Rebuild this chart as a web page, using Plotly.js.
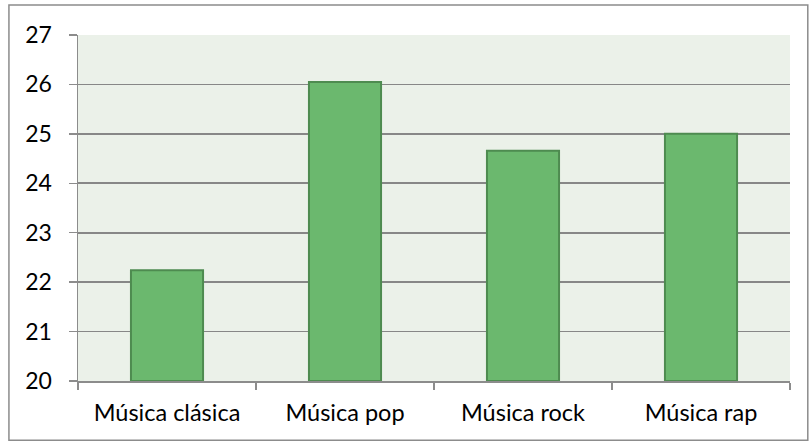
<!DOCTYPE html>
<html>
<head>
<meta charset="utf-8">
<script src="https://cdn.plot.ly/plotly-3.0.1.min.js"></script>
<style>
html,body{margin:0;padding:0;background:#fff;}
#chart{width:810px;height:445px;}
</style>
</head>
<body>
<div id="chart"></div>
<script>
const categories = ["Música clásica", "Música pop", "Música rock", "Música rap"];
const values = [22.24, 26.05, 24.66, 25.0];
const yTicks = [20, 21, 22, 23, 24, 25, 26, 27];
const baseValue = 20;

const trace = {
  type: "bar",
  x: categories,
  y: values.map(v => v - baseValue),
  base: baseValue,
  marker: {color: "#6bb86e", line: {color: "#4e8b50", width: 2}},
  width: 0.405,
  hoverinfo: "x+y"
};

const layout = {
  width: 810,
  height: 445,
  margin: {l: 78, r: 20, t: 35, b: 64},
  paper_bgcolor: "#ffffff",
  plot_bgcolor: "#ebf1e9",
  font: {family: "Lato, 'Open Sans', sans-serif", color: "#000000", size: 23},
  showlegend: false,
  xaxis: {
    type: "category",
    showgrid: false,
    showline: true,
    linecolor: "#8c8c8c",
    linewidth: 1.5,
    ticks: "outside",
    tickson: "boundaries",
    ticklen: 7,
    tickcolor: "#8c8c8c",
    tickwidth: 1.5,
    ticklabelstandoff: 10,
    tickfont: {size: 23.5}
  },
  yaxis: {
    range: [20, 27],
    tickvals: yTicks,
    ticktext: yTicks.map(String),
    showgrid: true,
    gridcolor: "#878787",
    gridwidth: 1.8,
    showline: true,
    linecolor: "#8c8c8c",
    linewidth: 1.5,
    ticks: "outside",
    ticklen: 8,
    tickcolor: "#8c8c8c",
    tickwidth: 1.5,
    ticklabelstandoff: 12,
    zeroline: false,
    tickfont: {size: 23}
  },
  shapes: [{
    type: "rect", xref: "paper", yref: "paper",
    x0: -0.097, x1: 1.025, y0: -0.171, y1: 1.087,
    line: {color: "#8c8c8c", width: 1.5},
    fillcolor: "rgba(0,0,0,0)",
    layer: "below"
  }]
};

Plotly.newPlot("chart", [trace], layout, {displayModeBar: false, staticPlot: true});
</script>
</body>
</html>
